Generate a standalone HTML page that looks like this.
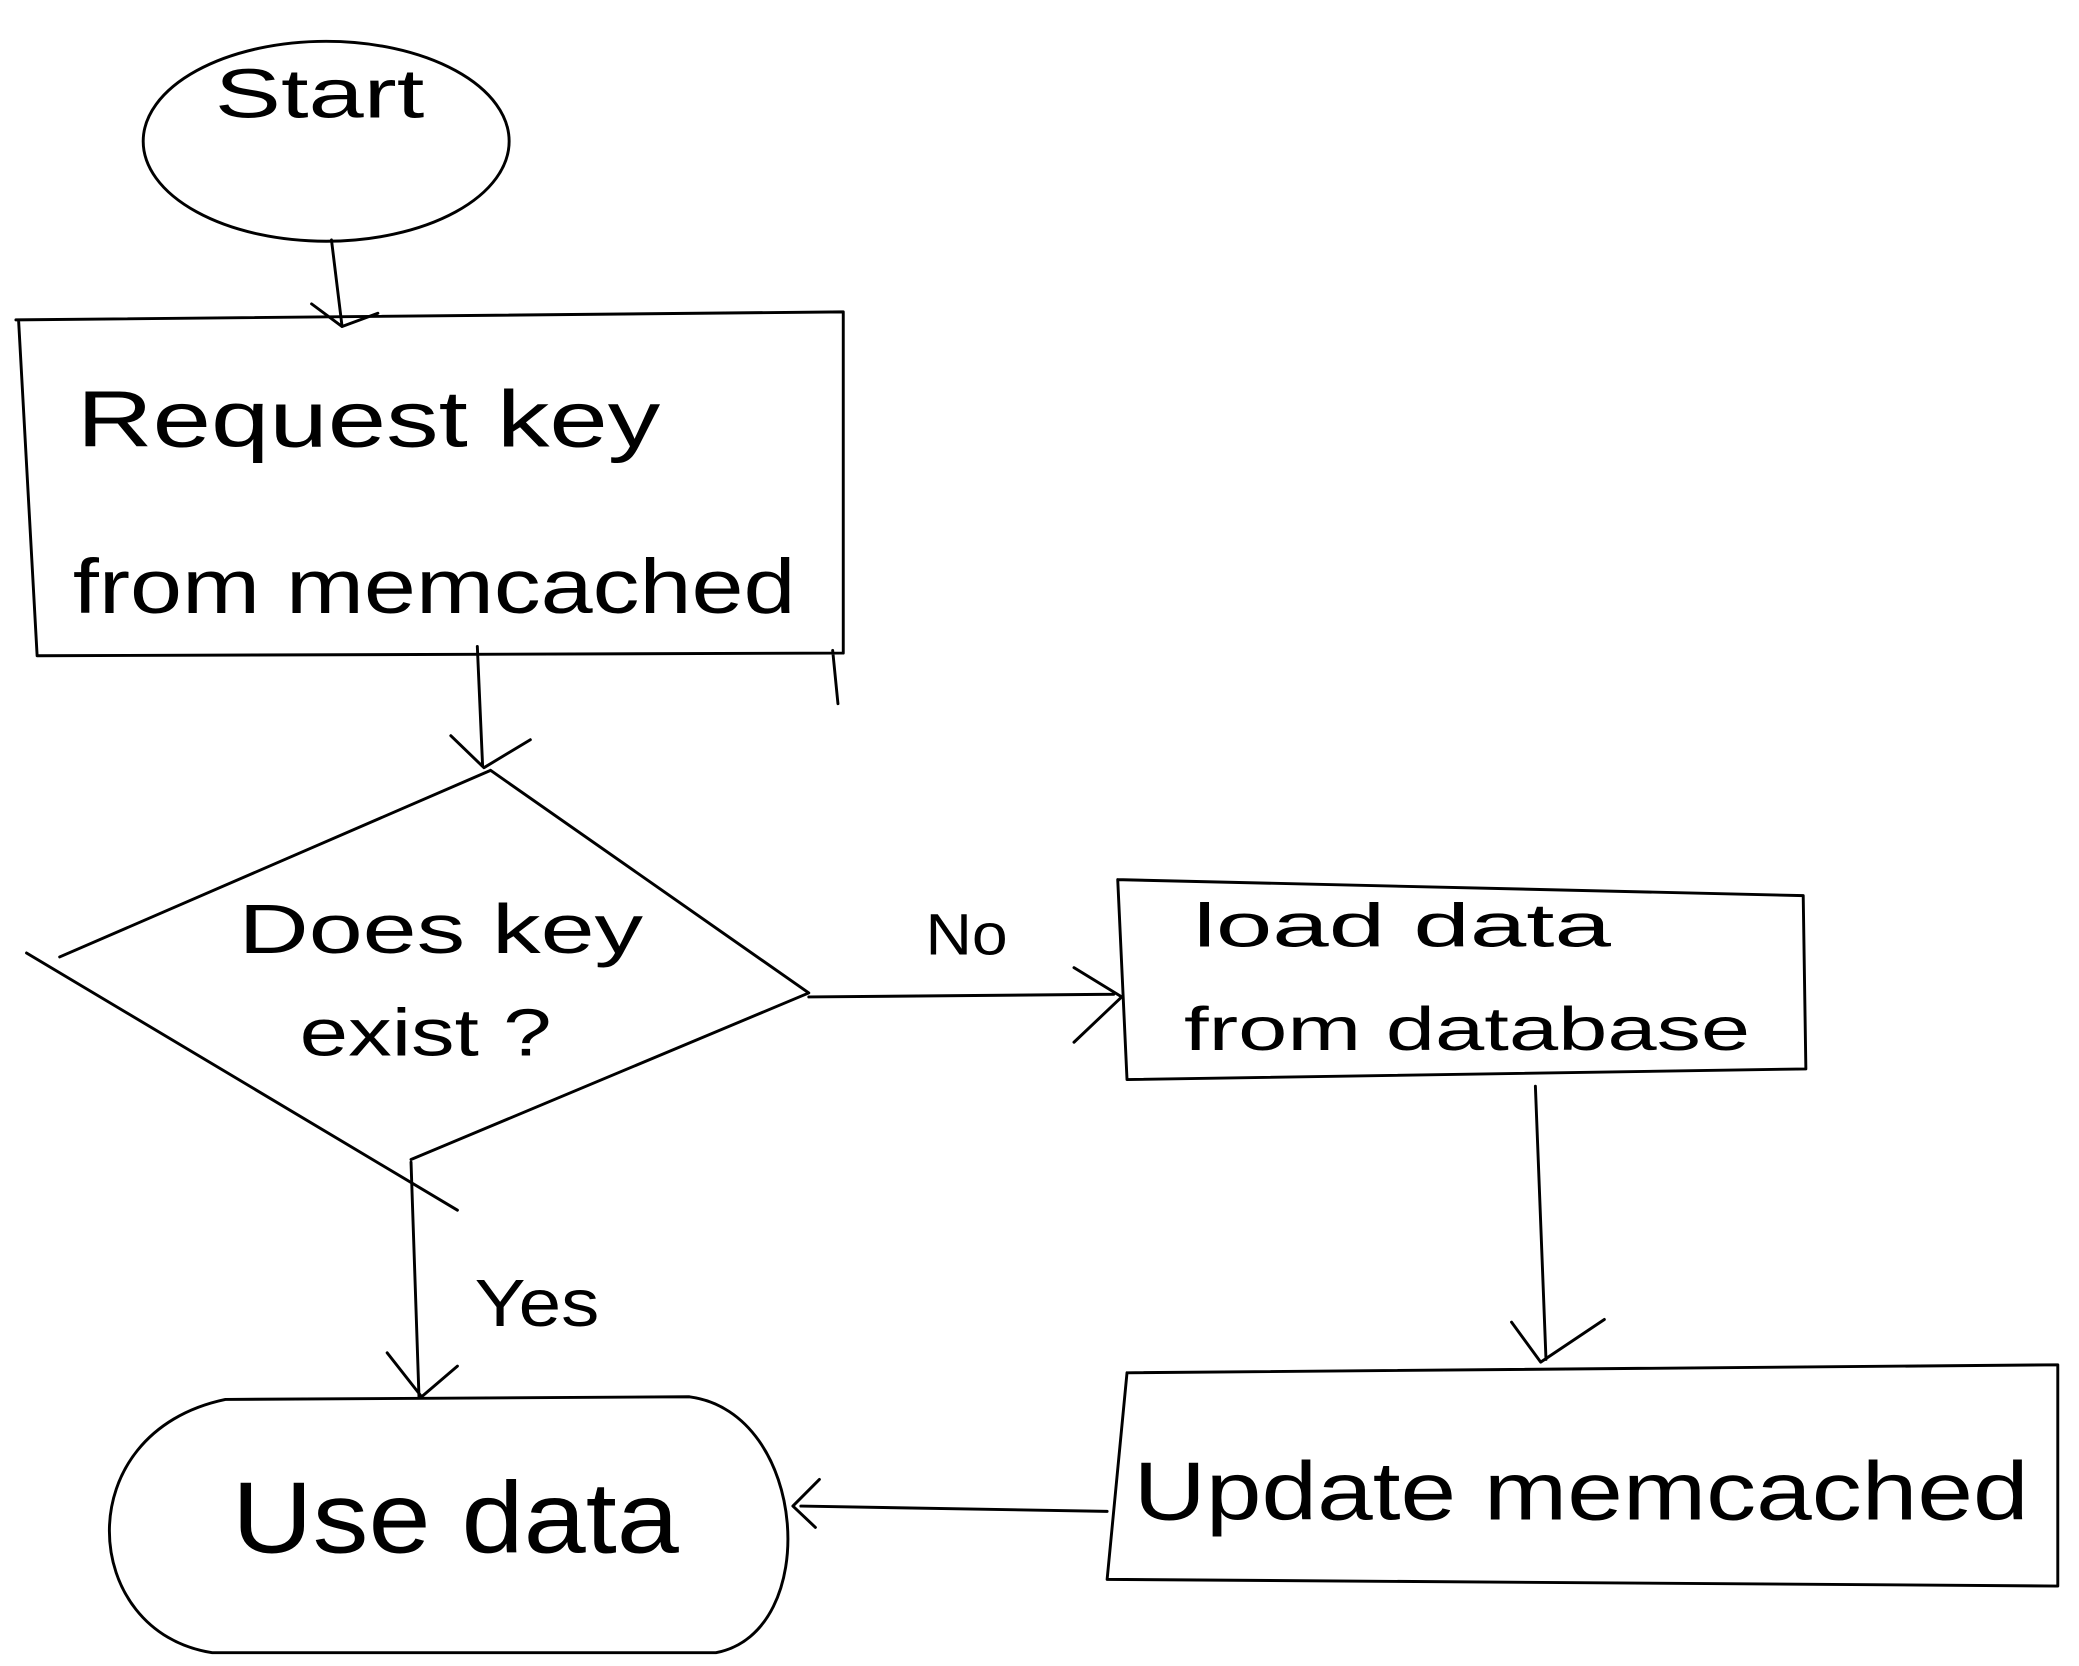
<!DOCTYPE html>
<html><head><style>
html,body{margin:0;padding:0;background:#fff;}
svg{display:block;}
text{font-family:"Liberation Sans",sans-serif;font-weight:normal;fill:#000;}
</style></head><body>
<svg width="2079" height="1666" viewBox="0 0 1568 1250" preserveAspectRatio="none" xmlns="http://www.w3.org/2000/svg">
<g fill="none" stroke="#000" stroke-width="2.2" stroke-linecap="round" stroke-linejoin="round">
<ellipse cx="246" cy="106" rx="138" ry="75"/>
<path d="M250 180 L258 245 M235 228 L258 245 L285 235"/>
<path d="M12 240 L636 234 L636 490 L28 492 L14 240 M628 488 L632 528"/>
<path d="M360 485 L364 575 M340 552 L365 576 L400 555"/>
<path d="M370 578 L45 718 M20 715 L345 908 M370 578 L610 745 L310 870"/>
<path d="M610 748 L840 746 M810 726 L846 748 L810 782"/>
<path d="M843 660 L1360 672 L1362 802 L850 810 L843 660"/>
<path d="M1158 815 L1166 1020 M1140 992 L1162 1022 L1210 990"/>
<path d="M850 1030 L1552 1024 L1552 1190 L835 1185 L850 1030"/>
<path d="M835 1134 L604 1130 M618 1110 L598 1130 L615 1146"/>
<path d="M310 872 L316 1048 M292 1015 L318 1048 L345 1025"/>
<path d="M170 1050 L520 1048 C610 1060 620 1225 540 1240 L160 1240 C60 1225 50 1075 170 1050 Z"/>
</g>
<text x="162" y="88" font-size="52" textLength="158" lengthAdjust="spacingAndGlyphs">Start</text>
<text x="58" y="335" font-size="60" textLength="440" lengthAdjust="spacingAndGlyphs">Request key</text>
<text x="55" y="460" font-size="58" textLength="545" lengthAdjust="spacingAndGlyphs">from memcached</text>
<text x="180" y="715" font-size="52" textLength="305" lengthAdjust="spacingAndGlyphs">Does key</text>
<text x="226" y="792" font-size="50" textLength="190" lengthAdjust="spacingAndGlyphs">exist ?</text>
<text x="698" y="716" font-size="44" textLength="62" lengthAdjust="spacingAndGlyphs">No</text>
<text x="900" y="710" font-size="46" textLength="315" lengthAdjust="spacingAndGlyphs">load data</text>
<text x="893" y="788" font-size="46" textLength="427" lengthAdjust="spacingAndGlyphs">from database</text>
<text x="358" y="995" font-size="50" textLength="94" lengthAdjust="spacingAndGlyphs">Yes</text>
<text x="855" y="1140" font-size="62" textLength="675" lengthAdjust="spacingAndGlyphs">Update memcached</text>
<text x="175" y="1165" font-size="76" textLength="337" lengthAdjust="spacingAndGlyphs">Use data</text>
</svg>
</body></html>
